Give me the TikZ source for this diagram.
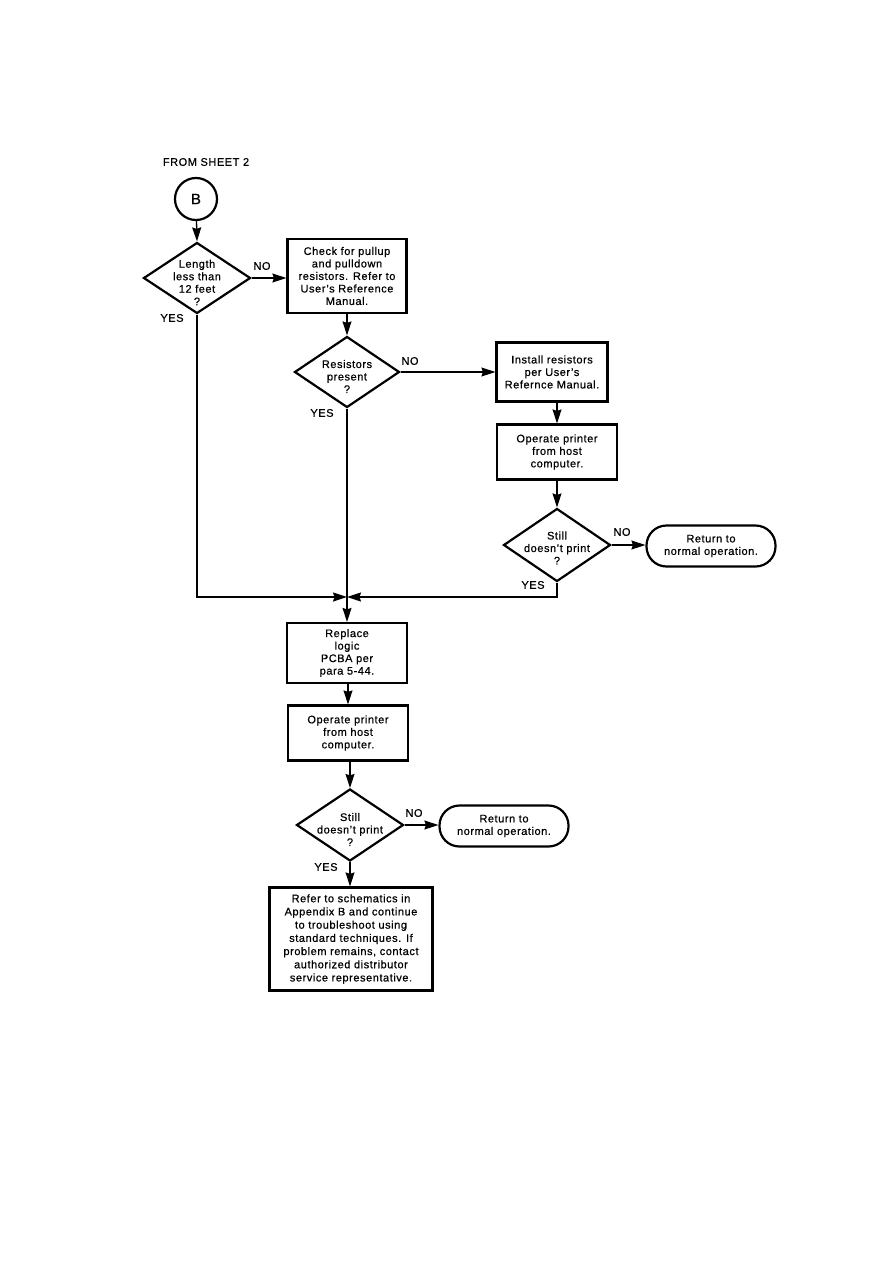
\documentclass[tikz,border=0pt]{standalone}
\usepackage{fontspec}
\setmainfont[LetterSpace=5,FakeBold=0.6]{Liberation Sans}
\usetikzlibrary{shapes.geometric,arrows.meta}
\begin{document}
\begin{tikzpicture}[x=1pt,y=-1pt,
 every node/.style={font=\fontsize{11}{12.5}\selectfont},
 box/.style={draw,line width=2.2pt,rectangle,align=center,inner sep=0pt},
 dia/.style={draw,line width=2.2pt,diamond,inner sep=0pt},
 term/.style={draw,line width=2.2pt,rounded corners=20pt,align=center,inner sep=0pt},
 conn/.style={line width=1.3pt},
 arr/.style={conn,-{Stealth[length=14pt,width=9pt,inset=1.5pt]}},
 lbl/.style={inner sep=0pt},
 dtext/.style={align=center,inner sep=0pt,yshift=-4.5pt}
]
\useasboundingbox[fill=white] (0,0) rectangle (893,1263);

\node[lbl] (from) at (206,162) {FROM SHEET 2};
\node[draw,circle,line width=2.2pt,minimum size=42pt,inner sep=0pt,font=\fontsize{15}{15}\selectfont] (B) at (196,199) {B};

\node[dia,minimum width=107pt,minimum height=71pt,
  label={[dtext]center:Length\\less than\\12 feet\\?}] (d1) at (197,278) {};
\node[box,minimum width=119pt,minimum height=74pt] (b1) at (347,276)
  {Check for pullup\\and pulldown\\resistors. Refer to\\User's Reference\\Manual.};

\node[dia,minimum width=105pt,minimum height=71pt,
  label={[dtext]center:Resistors\\present\\?}] (d2) at (347,372) {};
\node[box,minimum width=111pt,minimum height=59pt] (b2) at (552,372)
  {Install resistors\\per User's\\Refernce Manual.};
\node[box,minimum width=120pt,minimum height=55pt] (b3) at (557,452)
  {Operate printer\\from host\\computer.};
\node[dia,minimum width=107pt,minimum height=73pt,
  label={[dtext,yshift=1.5pt]center:Still\\doesn't print\\?}] (d3) at (557,545) {};
\node[term,minimum width=129pt,minimum height=41pt] (t1) at (711,546)
  {Return to\\normal operation.};

\coordinate (J) at (347,597);

\node[box,minimum width=120pt,minimum height=60pt] (b4) at (347,653)
  {Replace\\logic\\PCBA per\\para 5-44.};
\node[box,minimum width=120pt,minimum height=55pt] (b5) at (348,733)
  {Operate printer\\from host\\computer.};
\node[dia,minimum width=107pt,minimum height=72pt,
  label={[dtext]center:Still\\doesn't print\\?}] (d4) at (350,825) {};
\node[term,minimum width=129pt,minimum height=41pt] (t2) at (504,826)
  {Return to\\normal operation.};
\node[box,minimum width=163pt,minimum height=103pt,font=\fontsize{11}{13.2}\selectfont] (b6) at (351,939)
  {Refer to schematics in\\Appendix B and continue\\to troubleshoot using\\standard techniques. If\\problem remains, contact\\authorized distributor\\service representative.};

% labels
\node[lbl] (no1) at (262,266) {NO};
\node[lbl] (yes1) at (172,318) {YES};
\node[lbl] (no2) at (410,361) {NO};
\node[lbl] (yes2) at (322,413) {YES};
\node[lbl] (no3) at (622,532) {NO};
\node[lbl] (yes3) at (533,585) {YES};
\node[lbl] (no4) at (414,813) {NO};
\node[lbl] (yes4) at (326,867) {YES};

% connectors
\draw[arr] (B) -- (d1.north);
\draw[arr] (d1.east) -- (d1.east -| b1.west);
\draw[arr] (b1.south) -- (d2.north);
\draw[arr] (d2.east) -- (d2.east -| b2.west);
\draw[arr] (b2.south -| b3.north) -- (b3.north);
\draw[arr] (b3.south) -- (d3.north);
\draw[arr] (d3.east) -- (d3.east -| t1.west);
\draw[arr] (d1.south) |- (J);
\draw[arr] (d3.south) |- (J);
\draw[arr] (d2.south) -- (b4.north);
\draw[arr] (b4.south -| b5.north) -- (b5.north);
\draw[arr] (b5.south -| d4.north) -- (d4.north);
\draw[arr] (d4.east) -- (d4.east -| t2.west);
\draw[arr] (d4.south) -- (d4.south |- b6.north);
\end{tikzpicture}
\end{document}
